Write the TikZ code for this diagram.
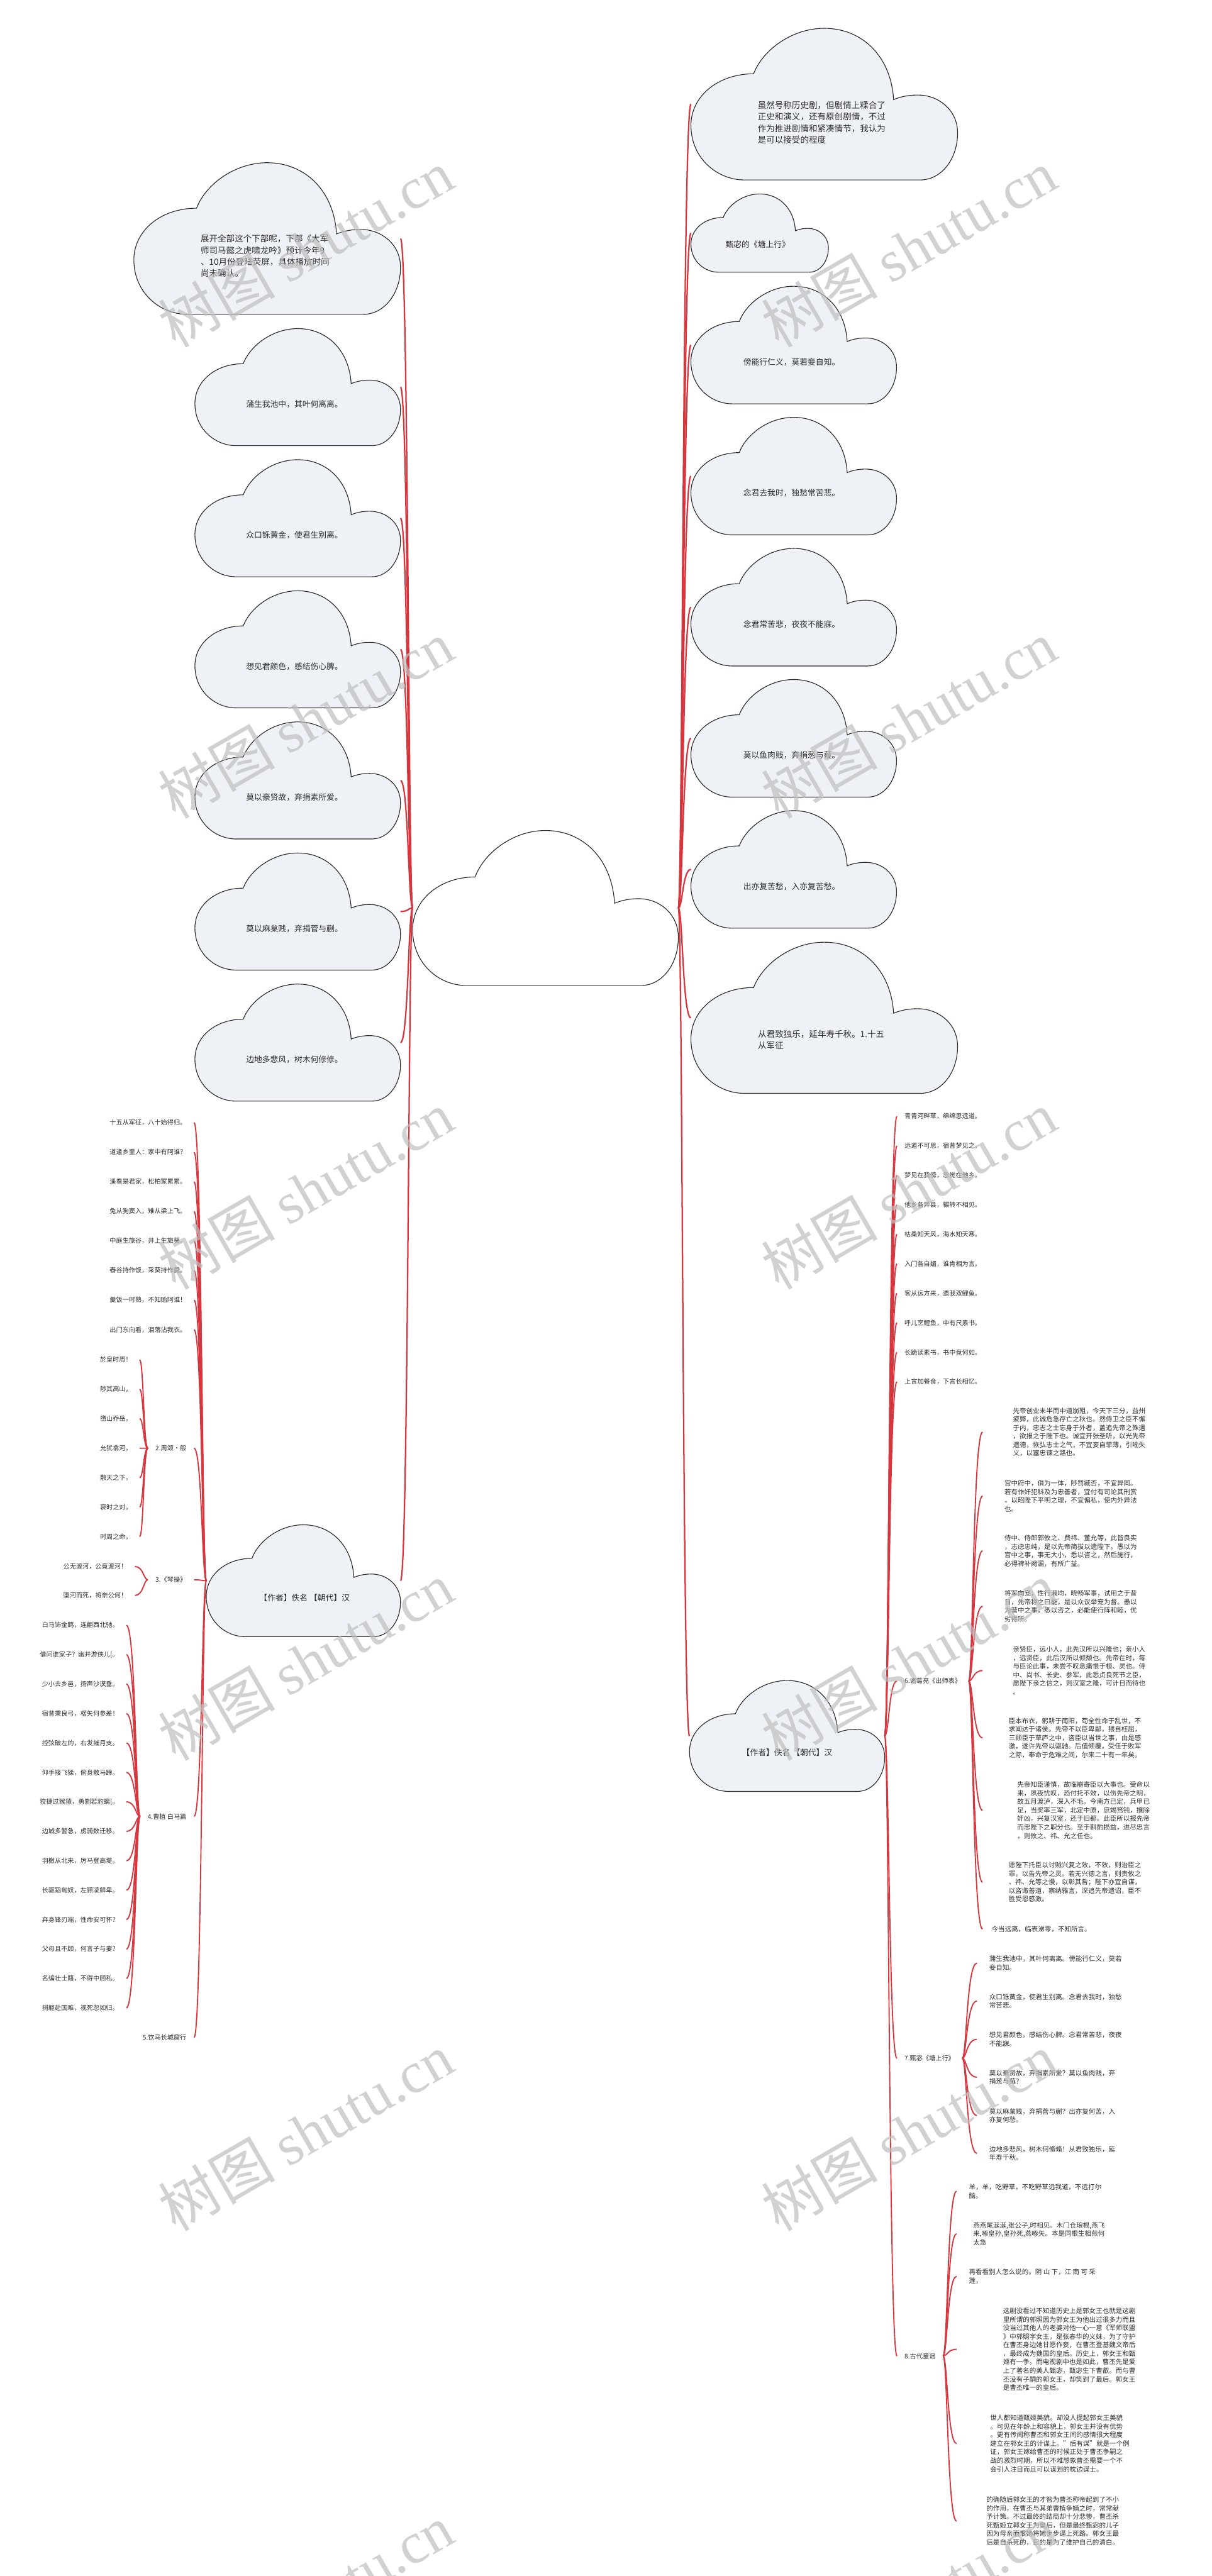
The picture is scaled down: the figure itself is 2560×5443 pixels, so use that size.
\documentclass[tikz,border=0pt]{standalone}
\usepackage{fontspec}
\setmainfont{Noto Sans CJK SC}
\newfontfamily\wmfont{Liberation Serif}
\usetikzlibrary{calc}
\pgfdeclarelayer{background}
\pgfdeclarelayer{foreground}
\pgfsetlayers{background,main,foreground}
\definecolor{cfill}{RGB}{238,241,245}
\definecolor{cline}{RGB}{40,40,40}
\definecolor{linkred}{RGB}{214,54,62}
\definecolor{txt}{RGB}{45,45,45}
\definecolor{wm}{RGB}{190,190,190}
\newcommand\cloudpath[2]{%
\path[draw=cline,line width=1.5pt,fill=#1]
 let \p1=(#2.south west), \p2=(#2.north east), \n1={\x2-\x1}, \n2={\y2-\y1} in
 ({\x1+0.20*\n1},{\y1}) -- ({\x1+0.86*\n1},{\y1})
 .. controls ({\x1+0.94*\n1},{\y1}) and ({\x2},{\y1+0.14*\n2}) .. ({\x2},{\y1+0.31*\n2})
 .. controls ({\x2},{\y1+0.46*\n2}) and ({\x1+0.93*\n1},{\y1+0.56*\n2}) .. ({\x1+0.85*\n1},{\y1+0.56*\n2})
 .. controls ({\x1+0.81*\n1},{\y1+0.56*\n2}) and ({\x1+0.78*\n1},{\y1+0.545*\n2}) .. ({\x1+0.76*\n1},{\y1+0.53*\n2})
 .. controls ({\x1+0.75*\n1},{\y1+0.82*\n2}) and ({\x1+0.64*\n1},{\y2}) .. ({\x1+0.50*\n1},{\y2})
 .. controls ({\x1+0.38*\n1},{\y2}) and ({\x1+0.27*\n1},{\y1+0.86*\n2}) .. ({\x1+0.235*\n1},{\y1+0.70*\n2})
 .. controls ({\x1+0.10*\n1},{\y1+0.70*\n2}) and ({\x1},{\y1+0.55*\n2}) .. ({\x1},{\y1+0.36*\n2})
 .. controls ({\x1},{\y1+0.14*\n2}) and ({\x1+0.10*\n1},{\y1}) .. ({\x1+0.20*\n1},{\y1})
 -- cycle;}
\newcommand\lconn[3][conn]{\draw[#1] let \p1=(#2), \p2=(#3) in (\p1) .. controls ({\x1-9pt},{\y1}) and ({\x1-9pt},{\y2}) .. (\p2);}
\newcommand\rconn[3][conn]{\draw[#1] let \p1=(#2), \p2=(#3) in (\p1) .. controls ({\x1+9pt},{\y1}) and ({\x1+9pt},{\y2}) .. (\p2);}
\begin{document}
\begin{tikzpicture}[x=1pt,y=-1pt,
 cloudbox/.style={draw=none,inner sep=0pt,rectangle},
 ctext/.style={font=\fontsize{17}{22}\selectfont,text=txt,inner sep=0pt},
 btext/.style={font=\fontsize{18}{24.3}\selectfont,text=txt,inner sep=0pt,align=left},
 item/.style={font=\fontsize{13.5}{17}\selectfont,text=txt,inner xsep=16pt,inner ysep=3pt},
 para/.style={font=\fontsize{14}{18}\selectfont,text=txt,align=left,inner ysep=3pt,anchor=west},
 conn/.style={draw=linkred,line width=2.5pt},
 mconn/.style={draw=linkred,line width=3pt},
 wmark/.style={rotate=30,text=wm,opacity=0.7,font=\fontsize{123}{123}\selectfont,inner sep=0pt}]
\useasboundingbox (0,0) rectangle (2560,5443);
% ---------- clouds (boxes) ----------
\node[cloudbox,minimum width=561pt,minimum height=327pt] (C) at (1152.5,1918.5) {};
\node[cloudbox,minimum width=563pt,minimum height=320pt] (L0) at (564.5,504) {};
\node[btext] (Lt0) at (560,541) {展开全部这个下部呢，下部《大军\\师司马懿之虎啸龙吟》预计今年9\\、10月份登陆荧屏，具体播放时间\\尚未确认。};
\foreach \kk/\tx in {1/蒲生我池中，其叶何离离。,2/众口铄黄金，使君生别离。,3/想见君颜色，感结伤心脾。,4/莫以豪贤故，弃捐素所爱。,5/莫以麻枲贱，弃捐菅与蒯。,6/边地多悲风，树木何修修。}{
 \pgfmathsetmacro\yy{818+277*(\kk-1)}
 \pgfmathsetmacro\ty{854+277*(\kk-1)}
 \node[cloudbox,minimum width=434pt,minimum height=247pt] (L\kk) at (629,\yy) {};
 \node[ctext] (Lt\kk) at (622,\ty) {\tx};
}
\node[cloudbox,minimum width=563pt,minimum height=320pt] (R1) at (1741.5,220) {};
\node[btext] (Rt1) at (1736,259) {虽然号称历史剧，但剧情上糅合了\\正史和演义，还有原创剧情，不过\\作为推进剧情和紧凑情节，我认为\\是可以接受的程度};
\node[cloudbox,minimum width=290pt,minimum height=165pt] (R2) at (1605,492.5) {};
\node[ctext] (Rt2) at (1601,516) {甄宓的《塘上行》};
\foreach \kk/\tx in {3/傍能行仁义，莫若妾自知。,4/念君去我时，独愁常苦悲。,5/念君常苦悲，夜夜不能寐。,6/莫以鱼肉贱，弃捐葱与薤。,7/出亦复苦愁，入亦复苦愁。}{
 \pgfmathsetmacro\yy{729+277*(\kk-3)}
 \pgfmathsetmacro\ty{765+277*(\kk-3)}
 \node[cloudbox,minimum width=434pt,minimum height=248pt] (R\kk) at (1677,\yy) {};
 \node[ctext] (Rt\kk) at (1672.5,\ty) {\tx};
}
\node[cloudbox,minimum width=563pt,minimum height=319pt] (R8) at (1741.5,2150.5) {};
\node[btext] (Rt8) at (1735,2197) {从君致独乐，延年寿千秋。1.十五\\从军征};
\node[cloudbox,minimum width=410pt,minimum height=236pt] (LB) at (641,3340) {};
\node[ctext] (LBt) at (643.5,3376) {【作者】佚名 【朝代】汉};
\node[cloudbox,minimum width=412pt,minimum height=234pt] (RB) at (1663,3668) {};
\node[ctext] (RBt) at (1663,3703) {【作者】佚名 【朝代】汉};
% ---------- left lists ----------
\foreach \i/\tx in {1/十五从军征，八十始得归。,2/道逢乡里人：家中有阿谁？,3/遥看是君家，松柏冢累累。,4/兔从狗窦入，雉从梁上飞。,5/中庭生旅谷，井上生旅葵。,6/舂谷持作饭，采葵持作羹。,7/羹饭一时熟，不知贻阿谁！,8/出门东向看，泪落沾我衣。}{
 \pgfmathsetmacro\yy{2372+62.5*(\i-1)}
 \node[item,anchor=east] (A\i) at (410,\yy) {\tx};
}
\node[item,anchor=east] (G2) at (410,3060) {2.周颂·般};
\foreach \i/\tx in {1/於皇时周！,2/陟其高山，,3/嶞山乔岳，,4/允犹翕河。,5/敷天之下，,6/裒时之对。,7/时周之命。}{
 \pgfmathsetmacro\yy{2873+62.3*(\i-1)}
 \node[item,anchor=east] (Z\i) at (295,\yy) {\tx};
}
\node[item,anchor=east] (G3) at (410,3338) {3.《琴操》};
\node[item,anchor=east] (Q1) at (285,3310) {公无渡河，公竟渡河！};
\node[item,anchor=east] (Q2) at (285,3371) {堕河而死，将奈公何！};
\node[item,anchor=east] (G4) at (410,3838) {4.曹植 白马篇};
\foreach \i/\tx in {1/白马饰金羁，连翩西北驰。,2/借问谁家子？幽并游侠儿[。,3/少小去乡邑，扬声沙漠垂。,4/宿昔秉良弓，楛矢何参差！,5/控弦破左的，右发摧月支。,6/仰手接飞猱，俯身散马蹄。,7/狡捷过猴猿，勇剽若豹螭[。,8/边城多警急，虏骑数迁移。,9/羽檄从北来，厉马登高堤。,10/长驱蹈匈奴，左顾凌鲜卑。,11/弃身锋刃端，性命安可怀？,12/父母且不顾，何言子与妻？,13/名编壮士籍，不得中顾私。,14/捐躯赴国难，视死忽如归。}{
 \pgfmathsetmacro\yy{3434+62.2*(\i-1)}
 \node[item,anchor=east] (W\i) at (267,\yy) {\tx};
}
\node[item,anchor=east] (G5) at (410,4305) {5.饮马长城窟行};
% ---------- right lists ----------
\foreach \i/\tx in {1/青青河畔草，绵绵思远道。,2/远道不可思，宿昔梦见之。,3/梦见在我傍，忽觉在他乡。,4/他乡各异县，辗转不相见。,5/枯桑知天风，海水知天寒。,6/入门各自媚，谁肯相为言。,7/客从远方来，遗我双鲤鱼。,8/呼儿烹鲤鱼，中有尺素书。,9/长跪读素书，书中竟何如。,10/上言加餐食，下言长相忆。}{
 \pgfmathsetmacro\yy{2359+62.3*(\i-1)}
 \node[item,anchor=west] (V\i) at (1895,\yy) {\tx};
}
\node[item,anchor=west] (G6) at (1895,3552) {6.诸葛亮《出师表》};
\node[para,inner xsep=64pt] (P1) at (2076,3026) {先帝创业未半而中道崩殂，今天下三分，益州\\疲弊，此诚危急存亡之秋也。然侍卫之臣不懈\\于内，忠志之士忘身于外者，盖追先帝之殊遇\\，欲报之于陛下也。诚宜开张圣听，以光先帝\\遗德，恢弘志士之气，不宜妄自菲薄，引喻失\\义，以塞忠谏之路也。};
\node[para,inner xsep=46pt] (P2) at (2076,3161) {宫中府中，俱为一体，陟罚臧否，不宜异同。\\若有作奸犯科及为忠善者，宜付有司论其刑赏\\，以昭陛下平明之理，不宜偏私，使内外异法\\也。};
\node[para,inner xsep=46pt] (P3) at (2076,3277) {侍中、侍郎郭攸之、费祎、董允等，此皆良实\\，志虑忠纯，是以先帝简拔以遗陛下。愚以为\\宫中之事，事无大小，悉以咨之，然后施行，\\必得裨补阙漏，有所广益。};
\node[para,inner xsep=46pt] (P4) at (2076,3394) {将军向宠，性行淑均，晓畅军事，试用之于昔\\日，先帝称之曰能，是以众议举宠为督。愚以\\为营中之事，悉以咨之，必能使行阵和睦，优\\劣得所。};
\node[para,inner xsep=64pt] (P5) at (2076,3530) {亲贤臣，远小人，此先汉所以兴隆也；亲小人\\，远贤臣，此后汉所以倾颓也。先帝在时，每\\与臣论此事，未尝不叹息痛恨于桓、灵也。侍\\中、尚书、长史、参军，此悉贞良死节之臣，\\愿陛下亲之信之，则汉室之隆，可计日而待也\\。};
\node[para,inner xsep=55pt] (P6) at (2076,3672) {臣本布衣，躬耕于南阳，苟全性命于乱世，不\\求闻达于诸侯。先帝不以臣卑鄙，猥自枉屈，\\三顾臣于草庐之中，咨臣以当世之事，由是感\\激，遂许先帝以驱驰。后值倾覆，受任于败军\\之际，奉命于危难之间，尔来二十有一年矣。};
\node[para,inner xsep=73pt] (P7) at (2076,3825) {先帝知臣谨慎，故临崩寄臣以大事也。受命以\\来，夙夜忧叹，恐付托不效，以伤先帝之明，\\故五月渡泸，深入不毛。今南方已定，兵甲已\\足，当奖率三军，北定中原，庶竭驽钝，攘除\\奸凶，兴复汉室，还于旧都。此臣所以报先帝\\而忠陛下之职分也。至于斟酌损益，进尽忠言\\，则攸之、祎、允之任也。};
\node[para,inner xsep=55pt] (P8) at (2076,3977) {愿陛下托臣以讨贼兴复之效，不效，则治臣之\\罪，以告先帝之灵。若无兴德之言，则责攸之\\、祎、允等之慢，以彰其咎；陛下亦宜自谋，\\以咨诹善道，察纳雅言，深追先帝遗诏，臣不\\胜受恩感激。};
\node[para,inner xsep=19pt] (P9) at (2076,4076) {今当远离，临表涕零，不知所言。};
\node[item,anchor=west] (G7) at (1895,4349) {7.甄宓《塘上行》};
\node[para,inner xsep=26pt] (D1) at (2064,4148) {蒲生我池中，其叶何离离。傍能行仁义，莫若\\妾自知。};
\node[para,inner xsep=26pt] (D2) at (2064,4228) {众口铄黄金，使君生别离。念君去我时，独愁\\常苦悲。};
\node[para,inner xsep=26pt] (D3) at (2064,4309) {想见君颜色，感结伤心脾。念君常苦悲，夜夜\\不能寐。};
\node[para,inner xsep=26pt] (D4) at (2064,4389) {莫以豪贤故，弃捐素所爱？莫以鱼肉贱，弃\\捐葱与薤？};
\node[para,inner xsep=26pt] (D5) at (2064,4470) {莫以麻枲贱，弃捐菅与蒯？出亦复何苦，入\\亦复何愁。};
\node[para,inner xsep=26pt] (D6) at (2064,4550) {边地多悲风，树木何翛翛！从君致独乐，延\\年寿千秋。};
\node[item,anchor=west] (G8) at (1895,4978) {8.古代童谣};
\node[para,inner xsep=26pt] (E1) at (2021,4630) {羊，羊，吃野草，不吃野草远我道，不远打尔\\脑。};
\node[para,inner xsep=35pt] (E2) at (2021,4720) {燕燕尾涎涎,张公子,时相见。木门仓琅根,燕飞\\来,啄皇孙,皇孙死,燕啄矢。本是同根生相煎何\\太急};
\node[para,inner xsep=26pt] (E3) at (2021,4810) {再看看别人怎么说的。阴 山 下，江 南 可 采\\莲，};
\node[para,inner xsep=98pt] (E4) at (2021,4964) {这剧没看过不知道历史上是郭女王也就是这剧\\里所谓的郭照因为郭女王为他出过很多力而且\\没当过其他人的老婆对他一心一意《军师联盟\\》中郭照字女王，是张春华的义妹，为了守护\\在曹丕身边她甘愿作妾，在曹丕登基魏文帝后\\，最终成为魏国的皇后。历史上，郭女王和甄\\姬有一争。而电视剧中也是如此，曹丕先是爱\\上了著名的美人甄宓，甄宓生下曹叡。而与曹\\丕没有子嗣的郭女王，却笑到了最后。郭女王\\是曹丕唯一的皇后。};
\node[para,inner xsep=71pt] (E5) at (2021,5163) {世人都知道甄姬美貌。却没人提起郭女王美貌\\。可见在年龄上和容貌上，郭女王并没有优势\\。更有传闻称曹丕和郭女王间的感情很大程度\\建立在郭女王的计谋上。"后有谋"就是一个例\\证，郭女王嫁给曹丕的时候正处于曹丕争嗣之\\战的激烈时期，所以不难想象曹丕需要一个不\\会引人注目而且可以谋划的枕边谋士。};
\node[para,inner xsep=63pt] (E6) at (2021,5327) {的确随后郭女王的才智为曹丕称帝起到了不小\\的作用，在曹丕与其弟曹植争嫡之时，常常献\\予计策。不过最终的结局却十分悲惨，曹丕杀\\死甄姬立郭女王为皇后，但是最终甄宓的儿子\\因为母亲而恨她将她步步逼上死路。郭女王最\\后是自杀死的，目的是为了维护自己的清白。};
% ---------- connectors and cloud outlines ----------
\begin{pgfonlayer}{background}
\fill[white] (0,0) rectangle (2560,5443);
\foreach \nm in {L0,L1,L2,L3,L4,L5,L6,LB}{\lconn[mconn]{C.west}{\nm.east}}
\foreach \nm in {R1,R2,R3,R4,R5,R6,R7,R8,RB}{\rconn[mconn]{C.east}{\nm.west}}
\foreach \i in {1,...,8}{\lconn{LB.west}{A\i.east}}
\foreach \nm in {G2,G3,G4,G5}{\lconn{LB.west}{\nm.east}}
\foreach \i in {1,...,7}{\lconn{G2.west}{Z\i.east}}
\lconn{G3.west}{Q1.east}
\lconn{G3.west}{Q2.east}
\foreach \i in {1,...,14}{\lconn{G4.west}{W\i.east}}
\foreach \i in {1,...,10}{\rconn{RB.east}{V\i.west}}
\foreach \nm in {G6,G7,G8}{\rconn{RB.east}{\nm.west}}
\foreach \i in {1,...,9}{\rconn{G6.east}{P\i.west}}
\foreach \i in {1,...,6}{\rconn{G7.east}{D\i.west}}
\foreach \i in {1,...,6}{\rconn{G8.east}{E\i.west}}
\cloudpath{white}{C}
\foreach \nm in {L0,L1,L2,L3,L4,L5,L6,R1,R2,R3,R4,R5,R6,R7,R8,LB,RB}{\cloudpath{cfill}{\nm}}
\end{pgfonlayer}
% ---------- watermarks ----------
\begin{pgfonlayer}{foreground}
\foreach \yy in {525,1520,2515,3510,4505,5500}{
 \node[wmark] (wl\yy) at (646,\yy) {树图 {\wmfont shutu.cn}};
 \node[wmark] (wr\yy) at (1920,\yy) {树图 {\wmfont shutu.cn}};
}
\end{pgfonlayer}
\end{tikzpicture}
\end{document}
